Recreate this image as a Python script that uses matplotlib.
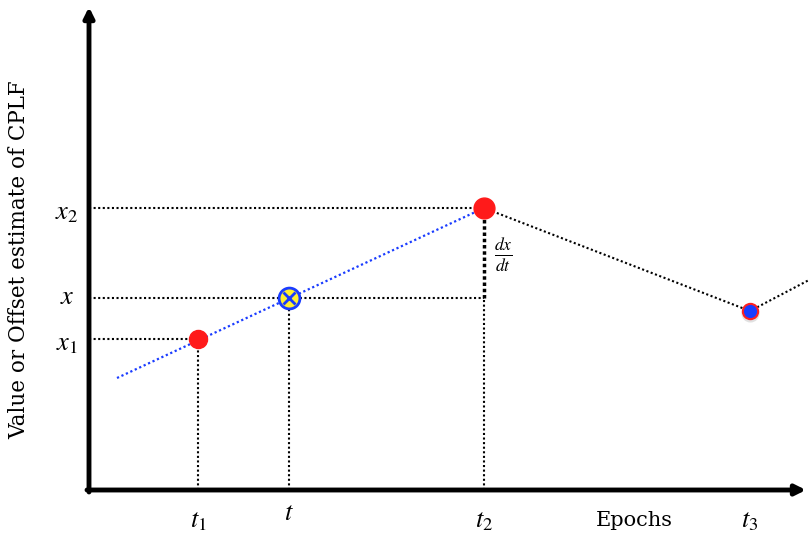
import matplotlib
matplotlib.use("Agg")
import matplotlib.pyplot as plt

# Time positions on the epoch axis
t_names = ["t_1", "t", "t_2", "t_3"]
t_vals = [109, 200, 395, 661]

# Value levels on the vertical axis
x_names = ["x_1", "x", "x_2"]
x_vals = [151, 192, 282]

# Estimate trend (blue) and observed path (black)
trend_t = [28, 395]
trend_x = [112, 282]
path_t = [395, 661, 720]
path_x = [282, 179, 210]

plt.rcParams["mathtext.fontset"] = "stix"

fig = plt.figure(figsize=(8.09, 5.33), dpi=100)
ax = fig.add_axes([0, 0, 1, 1])
ax.set_xlim(-89, 720)
ax.set_ylim(-43, 490)
ax.axis("off")

serif_math = {"fontsize": 19, "color": "black"}

# Axes arrows
ax.annotate("", xy=(720 - 3, 0), xytext=(-2, 0),
            arrowprops=dict(arrowstyle="-|>,head_length=0.6,head_width=0.3",
                            lw=3.5, color="black", shrinkA=0, shrinkB=0))
ax.annotate("", xy=(0, 483), xytext=(0, -2),
            arrowprops=dict(arrowstyle="-|>,head_length=0.6,head_width=0.3",
                            lw=3.5, color="black", shrinkA=0, shrinkB=0))

dot = dict(color="black", ls=(0, (1, 1.2)), lw=1.5)

t1, t, t2, t3 = t_vals
x1, x, x2 = x_vals

# Guide lines
ax.plot([0, t2], [x2, x2], **dot)
ax.plot([0, t2], [x, x], **dot)
ax.plot([0, t1], [x1, x1], **dot)
ax.plot([t1, t1], [0, x1], **dot)
ax.plot([t, t], [0, x], **dot)
ax.plot([t2, t2], [0, x], **dot)
ax.plot([t2, t2], [x, x2], color="black", ls=(0, (1, 0.8)), lw=2.5)

# Paths
ax.plot(trend_t, trend_x, color="#1a3cff", ls=(0, (1, 1.2)), lw=1.6)
ax.plot(path_t, path_x, **dot)

# Markers
ax.plot([t1], [x1], "o", ms=13, color="#ff1a1a", mec="#ff1a1a", zorder=5)
ax.plot([t2], [x2], "o", ms=15, color="#ff1a1a", mec="#ff1a1a", zorder=5)
ax.plot([t3], [path_x[1] - 1.5], "o", ms=13, color="#888888", alpha=0.25,
        mec="none", zorder=4)
ax.plot([t3], [path_x[1]], "o", ms=11, color="#1a3cff", mec="#ff2020",
        mew=1.5, zorder=5)
ax.plot([t], [x], "o", ms=15, color="#ffee33", mec="#1a3cff", mew=2, zorder=5)
ax.plot([t], [x], "x", ms=8, color="#1a3cff", mew=2, zorder=6)

# Tick labels
for name, val in zip(t_names, t_vals):
    dy = -30 if name != "t" else -23
    ax.text(val, dy, f"${name}$", ha="center", va="center", **serif_math)
for name, val in zip(x_names, x_vals):
    ax.text(-22, val - 4 if name != "x" else val + 1, f"${name}$",
            ha="center", va="center", **serif_math)

ax.text(t2 + 19, 235, r"$\frac{dx}{dt}$", ha="center", va="center",
        fontsize=18, color="black")

ax.text(545, -30, "Epochs", ha="center", va="center",
        family="DejaVu Serif", fontsize=15)
ax.text(-70, 230, "Value or Offset estimate of CPLF", rotation=90,
        ha="center", va="center", family="DejaVu Serif", fontsize=15.5)

fig.savefig("out.png", dpi=100)
